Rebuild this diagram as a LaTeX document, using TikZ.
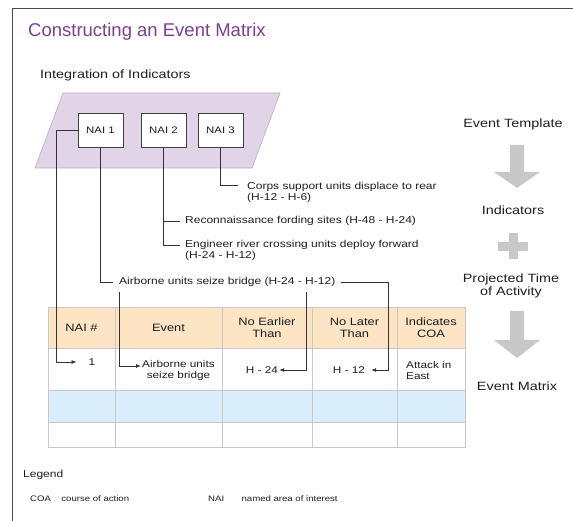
\documentclass[tikz,border=0pt]{standalone}
\usepackage{fontspec}
\setmainfont{Liberation Sans}
\newfontfamily\widesans{Liberation Sans}[FakeStretch=1.2]
\usetikzlibrary{arrows.meta,positioning}

\definecolor{titlepurple}{RGB}{124,64,140}
\definecolor{textgray}{RGB}{30,30,30}
\definecolor{paralfill}{RGB}{226,212,232}
\definecolor{paraledge}{RGB}{185,172,192}
\definecolor{hdrfill}{RGB}{252,228,196}
\definecolor{rowblue}{RGB}{218,237,250}
\definecolor{cellline}{RGB}{200,200,200}
\definecolor{stepgray}{RGB}{200,200,200}

\tikzset{
  >=Latex,
  every node/.append style={text=textgray},
}
\tikzset{
  wire/.style={draw=black!80, line width=0.8pt},
  feed/.style={-{Latex[length=5pt,width=4pt]}},
  frameline/.style={draw=black!70, line width=0.9pt}
}

\begin{document}
\begin{tikzpicture}[
  x=1pt, y=-1pt,
  heading/.style ={font=\fontsize{18.5}{20}\selectfont, text=titlepurple, inner sep=0pt},
  subhead/.style ={font=\widesans\fontsize{12}{14}\selectfont, inner sep=0pt},
  nai/.style     ={draw=black!75, fill=white, line width=0.6pt, minimum width=45pt,
                   minimum height=34pt, inner sep=0pt, font=\widesans\fontsize{9.5}{11}\selectfont},
  desc/.style    ={font=\widesans\fontsize{10}{11}\selectfont, align=left, inner sep=2pt},
  cell/.style    ={draw=cellline, line width=0.7pt, inner sep=0pt},
  hdr/.style     ={font=\widesans\fontsize{10.7}{11.8}\selectfont, align=center, inner sep=1pt},
  entry/.style   ={font=\widesans\fontsize{9.8}{11}\selectfont, align=center, inner sep=1pt},
  stepname/.style={font=\widesans\fontsize{12}{12.5}\selectfont, align=center, inner sep=0pt},
  bigarrow/.style={fill=stepgray, draw=none},
  legtxt/.style  ={font=\widesans\fontsize{8}{9}\selectfont, inner sep=0pt}
]
\useasboundingbox (0,0) rectangle (573,521);

% frame
\draw[frameline] (12,521) -- (12,8) -- (573,8);

% titles
\node[heading, anchor=base west] (title) at (28,37) {Constructing an Event Matrix};
\node[subhead, anchor=base west] (integ) at (40,79) {Integration of Indicators};

% indicator plane with the three NAIs
\filldraw[fill=paralfill, draw=paraledge, line width=0.6pt] (63,93) -- (280,93) -- (252,168) -- (35,168) -- cycle;
\node[nai] (nai1) at (100.5,130) {NAI 1};
\node[nai] (nai2) at (163.5,130) {NAI 2};
\node[nai] (nai3) at (220.5,130) {NAI 3};

% indicators
\node[desc, anchor=north west] (corps) at (245,180) {Corps support units displace to rear\\(H-12 - H-6)};
\node[desc, anchor=base west] (recon) at (183,224) {Reconnaissance fording sites (H-48 - H-24)};
\node[desc, anchor=north west] (eng) at (183,238.5) {Engineer river crossing units deploy forward\\(H-24 - H-12)};
\node[desc, anchor=base west] (airb) at (117,285) {Airborne units seize bridge (H-24 - H-12)};

% event matrix table
\foreach \xa/\xb/\cn in {48/115/a, 115/222/b, 222/312/c, 312/397/d, 397/465/e}{
  \foreach \ya/\yb/\rn/\rc in {307/348/h/hdrfill, 348/390/r1/white, 390/422/r2/rowblue, 422/447/r3/white}{
    \pgfmathsetmacro\cw{\xb-\xa}
    \pgfmathsetmacro\ch{\yb-\ya}
    \node[cell, fill=\rc, minimum width=\cw pt, minimum height=\ch pt] (\rn-\cn) at ({(\xa+\xb)/2},{(\ya+\yb)/2}) {};
  }
}
\foreach \cn/\txt in {a/NAI \#, b/Event, c/No Earlier\\Than, d/No Later\\Than, e/Indicates\\COA}{
  \node[hdr] (t-\cn) at (h-\cn) {\txt};
}
\node[entry] (c1) at (92,362) {1};
\node[entry, anchor=west] (ev1) at (141,370) {Airborne units\\seize bridge};
\node[entry] (c3) at (262,370) {H - 24};
\node[entry] (c4) at (349,370) {H - 12};
\node[entry, align=left, anchor=west] (c5) at (405,370) {Attack in\\East};

% connectors
\draw[wire, feed, shorten >=11pt] (nai1.west) -- ++(-21,0) |- (c1.west);
\draw[wire, shorten >=4pt] (nai1.south) |- (airb.west);
\draw[wire, shorten >=3pt] (nai2.south) |- (recon.west);
\draw[wire, shorten >=3pt] (nai2.south) |- ([yshift=-6.5pt]eng.north west);
\draw[wire, shorten >=7pt] (nai3.south) |- ([yshift=-5pt]corps.north west);
\draw[wire, feed, shorten <=3pt] ([xshift=2pt]airb.south west) |- ([yshift=4pt]ev1.west);
\draw[wire, feed, shorten <=3pt] ([xshift=-31pt]airb.south east) |- (c3.east);
\draw[wire, feed, shorten <=4pt, shorten >=5pt] (airb.east) -| ([xshift=22pt]c4.east) -- (c4.east);

% process steps
\node[stepname] (tmpl) at (513,124) {Event Template};
\fill[bigarrow] (510,145) -- (524,145) -- (524,172) -- (540,172) -- (517,188) -- (494,172) -- (510,172) -- cycle;
\node[stepname] (ind) at (513,210) {Indicators};
\fill[bigarrow] (508.5,233) rectangle (517.5,259);
\fill[bigarrow] (498,242) rectangle (528,251);
\node[stepname] (proj) at (511,286) {Projected Time\\of Activity};
\fill[bigarrow] (510,311) -- (524,311) -- (524,340) -- (540,340) -- (517,358) -- (494,340) -- (510,340) -- cycle;
\node[stepname] (emat) at (517,386) {Event Matrix};

% legend
\node[anchor=base west, inner sep=0pt, font=\widesans\fontsize{10}{12}\selectfont] (leg) at (23,477) {Legend};
\node[legtxt, anchor=base west] (coa) at (30,501) {COA};
\node[legtxt, base right=10pt of coa] (coadef) {course of action};
\node[legtxt, anchor=base west] (naik) at (208,501) {NAI};
\node[legtxt, base right=17pt of naik] (naidef) {named area of interest};

\end{tikzpicture}
\end{document}
